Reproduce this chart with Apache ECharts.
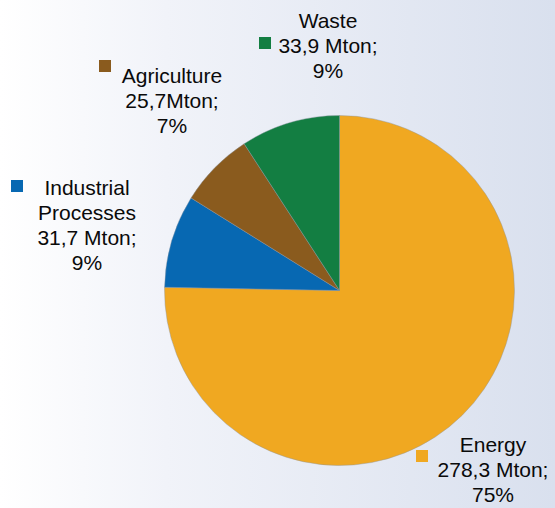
<!DOCTYPE html>
<html>
<head>
<meta charset="utf-8">
<script src="https://cdn.jsdelivr.net/npm/echarts@6/dist/echarts.min.js"></script>
<style>
  html, body { margin: 0; padding: 0; }
  #chart { width: 555px; height: 508px; }
</style>
</head>
<body>
<div id="chart"></div>
<script>
// Greenhouse gas emissions by sector (Mton CO2-eq)
const sectors = ['Energy', 'Industrial\nProcesses', 'Agriculture', 'Waste'];
const emissions = [278.3, 31.7, 25.7, 33.9];
const unitGap = [' ', ' ', '', ' '];
const sectorColors = ['#F0A821', '#0768B2', '#8A5B1E', '#137E42'];

// label anchors: centre x, top y of each label block
const labelAnchor = [[493, 432], [87, 175], [172, 63], [328, 8]];
// small colour keys next to each label
const keyBox = [[416, 450], [11, 180], [99, 60], [259, 37]];

const chart = echarts.init(document.getElementById('chart'), null, { renderer: 'svg' });

const fmt = v => v.toFixed(1).replace('.', ',');

chart.setOption({
  backgroundColor: {
    type: 'linear', x: 0, y: 0, x2: 1, y2: 0,
    colorStops: [
      { offset: 0, color: '#ffffff' },
      { offset: 0.3, color: '#f1f3f9' },
      { offset: 1, color: '#d9e0ee' }
    ]
  },
  animation: false,
  graphic: keyBox.map((p, i) => ({
    type: 'rect',
    left: p[0], top: p[1],
    shape: { width: 12, height: 12 },
    style: { fill: sectorColors[i] }
  })),
  series: [{
    type: 'pie',
    center: [339.5, 290.5],
    radius: [0, 175],
    startAngle: 90,
    clockwise: true,
    percentPrecision: 0,
    data: sectors.map((s, i) => ({
      name: s,
      value: emissions[i],
      itemStyle: { color: sectorColors[i] }
    })),
    itemStyle: { borderColor: 'rgba(140,150,160,0.7)', borderWidth: 0.6 },
    label: {
      show: true,
      position: 'outside',
      overflow: 'none',
      fontFamily: 'Liberation Sans, Arial, sans-serif',
      fontSize: 21,
      lineHeight: 25,
      color: '#0a0a0a',
      align: 'center',
      formatter: p => p.name + '\n' + fmt(p.value) + unitGap[p.dataIndex] + 'Mton;\n' + Math.round(p.percent) + '%'
    },
    labelLine: { show: false },
    labelLayout: p => ({
      x: labelAnchor[p.dataIndex][0],
      y: labelAnchor[p.dataIndex][1],
      align: 'center',
      verticalAlign: 'top'
    }),
    emphasis: { disabled: true }
  }]
});
</script>
</body>
</html>
